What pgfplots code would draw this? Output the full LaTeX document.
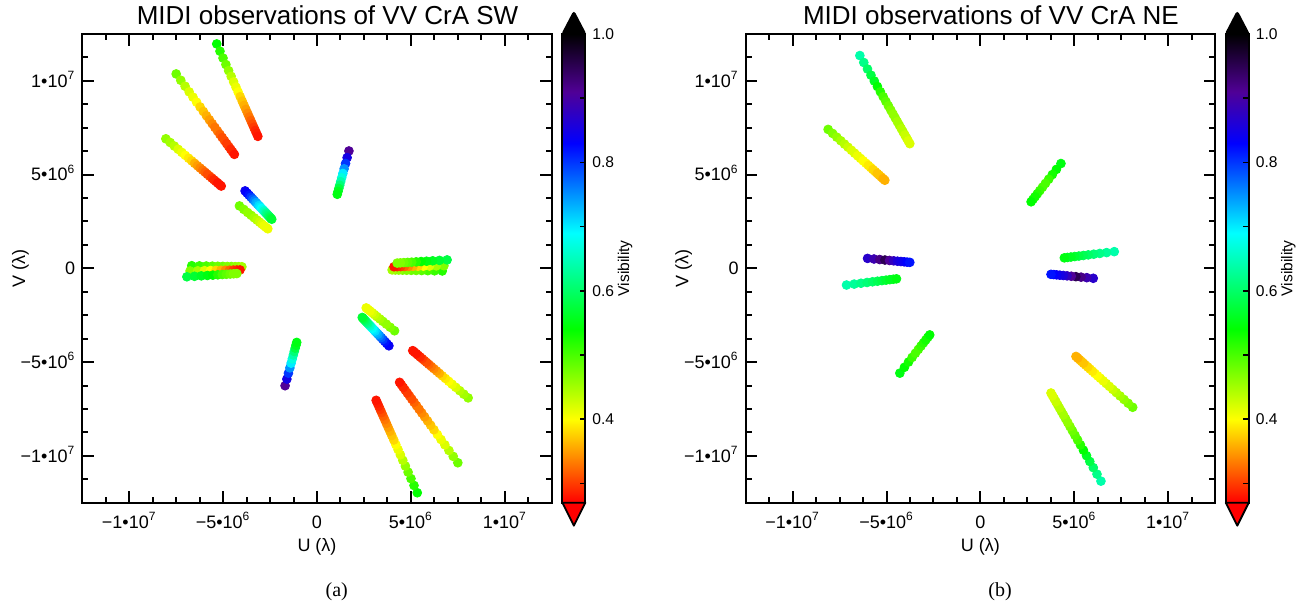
\documentclass[border=0pt]{standalone}
\usepackage{pgfplots}
\pgfplotsset{compat=1.18}
\usepackage{pgfplotstable}
\usepackage{fontspec}
\setmainfont{Liberation Sans}
\newfontfamily\capfont{Liberation Serif}

\pgfplotsset{colormap={vis}{rgb255(0pt)=(255,0,0); rgb255(17.8pt)=(255,255,0); rgb255(37pt)=(0,255,0); rgb255(57.5pt)=(0,255,255); rgb255(76.7pt)=(0,0,255); rgb255(87.7pt)=(80,0,150); rgb255(100pt)=(0,0,0)}}

% SW: one baseline of each conjugate pair (u, v in units of 1e6 lambda)
\pgfplotstableread{
u v vis
-5.340 11.970 0.54
-5.167 11.581 0.52
-5.005 11.216 0.50
-4.852 10.871 0.48
-4.707 10.545 0.46
-4.571 10.240 0.44
-4.440 9.944 0.42
-4.317 9.668 0.41
-4.201 9.406 0.40
-4.090 9.155 0.38
-3.984 8.918 0.37
-3.884 8.692 0.36
-3.787 8.475 0.35
-3.695 8.268 0.34
-3.608 8.070 0.33
-3.522 7.878 0.32
-3.441 7.696 0.31
-3.365 7.523 0.30
-3.290 7.356 0.29
-3.218 7.193 0.285
-3.150 7.040 0.28
-7.500 10.370 0.48
-7.255 10.031 0.46
-7.026 9.714 0.44
-6.809 9.413 0.42
-6.604 9.130 0.41
-6.412 8.864 0.40
-6.226 8.607 0.38
-6.052 8.367 0.37
-5.888 8.139 0.36
-5.730 7.920 0.35
-5.581 7.714 0.34
-5.439 7.517 0.33
-5.302 7.328 0.33
-5.172 7.148 0.32
-5.048 6.977 0.31
-4.927 6.809 0.31
-4.812 6.651 0.30
-4.704 6.500 0.30
-4.598 6.355 0.29
-4.496 6.213 0.29
-4.400 6.080 0.28
-8.050 6.910 0.46
-7.817 6.711 0.45
-7.599 6.524 0.44
-7.392 6.348 0.42
-7.197 6.182 0.41
-7.015 6.025 0.40
-6.838 5.874 0.39
-6.672 5.733 0.38
-6.516 5.600 0.36
-6.366 5.471 0.35
-6.224 5.350 0.34
-6.088 5.234 0.33
-5.958 5.123 0.32
-5.835 5.017 0.31
-5.717 4.917 0.31
-5.602 4.818 0.30
-5.492 4.725 0.29
-5.389 4.637 0.29
-5.289 4.551 0.28
-5.191 4.468 0.28
-5.100 4.390 0.28
-3.830 4.130 0.84
-3.718 4.011 0.83
-3.613 3.899 0.82
-3.513 3.793 0.80
-3.420 3.694 0.78
-3.332 3.600 0.76
-3.246 3.509 0.74
-3.167 3.425 0.73
-3.092 3.345 0.71
-3.019 3.268 0.70
-2.951 3.195 0.69
-2.886 3.126 0.68
-2.823 3.059 0.66
-2.764 2.996 0.65
-2.707 2.936 0.63
-2.651 2.877 0.62
-2.599 2.821 0.61
-2.549 2.768 0.60
-2.501 2.717 0.59
-2.454 2.667 0.58
-2.410 2.620 0.57
-4.130 3.330 0.48
-3.899 3.143 0.47
-3.694 2.977 0.46
-3.509 2.829 0.46
-3.345 2.696 0.45
-3.195 2.575 0.44
-3.059 2.465 0.43
-2.936 2.365 0.42
-2.821 2.272 0.41
-2.717 2.188 0.41
-2.620 2.110 0.41
1.700 6.260 0.91
1.605 5.907 0.85
1.521 5.592 0.80
1.445 5.311 0.75
1.378 5.059 0.70
1.316 4.830 0.67
1.260 4.622 0.64
1.210 4.433 0.61
1.162 4.257 0.58
1.120 4.098 0.56
1.080 3.950 0.55
-6.670 0.140 0.52
-6.261 0.131 0.51
-5.898 0.124 0.50
-5.573 0.117 0.49
-5.282 0.111 0.48
-5.017 0.105 0.48
-4.777 0.100 0.47
-4.558 0.096 0.47
-4.355 0.091 0.46
-4.171 0.088 0.46
-4.000 0.084 0.45
-6.760 -0.140 0.47
-6.353 -0.132 0.45
-5.991 -0.124 0.42
-5.667 -0.117 0.40
-5.377 -0.111 0.38
-5.113 -0.106 0.36
-4.874 -0.101 0.34
-4.656 -0.096 0.32
-4.454 -0.092 0.30
-4.270 -0.089 0.29
-4.100 -0.085 0.28
-6.930 -0.450 0.58
-6.523 -0.424 0.57
-6.161 -0.401 0.56
-5.837 -0.380 0.55
-5.547 -0.362 0.54
-5.283 -0.345 0.52
-5.044 -0.329 0.50
-4.826 -0.316 0.49
-4.624 -0.303 0.48
-4.440 -0.291 0.47
-4.270 -0.280 0.47
}\tabSW

% NE
\pgfplotstableread{
u v vis
-6.420 11.350 0.64
-6.210 10.979 0.62
-6.013 10.631 0.60
-5.827 10.302 0.58
-5.651 9.992 0.56
-5.486 9.700 0.54
-5.327 9.418 0.52
-5.178 9.155 0.50
-5.037 8.906 0.49
-4.901 8.666 0.48
-4.773 8.441 0.47
-4.651 8.225 0.46
-4.534 8.018 0.46
-4.422 7.820 0.45
-4.316 7.632 0.45
-4.212 7.449 0.44
-4.114 7.275 0.44
-4.021 7.111 0.43
-3.930 6.951 0.43
-3.842 6.796 0.42
-3.760 6.650 0.42
-8.110 7.410 0.48
-7.871 7.196 0.47
-7.648 6.995 0.46
-7.437 6.806 0.45
-7.237 6.627 0.44
-7.050 6.459 0.43
-6.869 6.296 0.42
-6.700 6.144 0.42
-6.540 6.001 0.41
-6.386 5.863 0.41
-6.241 5.733 0.40
-6.102 5.608 0.40
-5.969 5.489 0.39
-5.842 5.375 0.39
-5.721 5.266 0.38
-5.603 5.161 0.38
-5.492 5.060 0.37
-5.386 4.966 0.37
-5.283 4.873 0.37
-5.184 4.784 0.36
-5.090 4.700 0.36
-6.010 0.530 0.87
-5.666 0.498 0.89
-5.360 0.469 0.92
-5.085 0.444 0.95
-4.840 0.421 0.91
-4.617 0.400 0.88
-4.415 0.381 0.86
-4.230 0.364 0.85
-4.059 0.348 0.84
-3.904 0.333 0.83
-3.760 0.320 0.82
-7.130 -0.890 0.64
-6.723 -0.840 0.63
-6.361 -0.795 0.62
-6.037 -0.754 0.61
-5.747 -0.718 0.60
-5.483 -0.686 0.59
-5.244 -0.656 0.58
-5.026 -0.629 0.57
-4.824 -0.604 0.56
-4.640 -0.581 0.56
-4.470 -0.560 0.55
-4.290 -5.590 0.55
-4.047 -5.278 0.54
-3.830 -5.000 0.53
-3.637 -4.752 0.51
-3.463 -4.529 0.50
-3.306 -4.327 0.50
-3.163 -4.144 0.51
-3.032 -3.976 0.52
-2.911 -3.821 0.53
-2.802 -3.681 0.53
-2.700 -3.550 0.54
}\tabNE

\pgfplotsset{
  uvpanel/.style={
    scale only axis, width=234.7pt, height=234.35pt, anchor=south west,
    xmin=-12.5, xmax=12.5, ymin=-12.5, ymax=12.5,
    xtick={-10,-5,0,5,10}, ytick={-10,-5,0,5,10},
    minor xtick={-11.25,-8.75,-7.5,-6.25,-3.75,-2.5,-1.25,1.25,2.5,3.75,6.25,7.5,8.75,11.25},
    minor ytick={-11.25,-8.75,-7.5,-6.25,-3.75,-2.5,-1.25,1.25,2.5,3.75,6.25,7.5,8.75,11.25},
    xticklabels={−1•10\textsuperscript{7},−5•10\textsuperscript{6},0,5•10\textsuperscript{6},1•10\textsuperscript{7}},
    yticklabels={−1•10\textsuperscript{7},−5•10\textsuperscript{6},0,5•10\textsuperscript{6},1•10\textsuperscript{7}},
    tick align=inside, major tick length=5.8pt, minor tick length=3pt,
    tick style={black, line width=1pt},
    axis line style={line width=1pt},
    tick label style={font=\fontsize{9}{11}\selectfont},
    xticklabel style={anchor=base, yshift=-12.8pt},
    yticklabel style={anchor=base east, yshift=-3.1pt},
    xlabel={U (λ)}, ylabel={V (λ)},
    label style={font=\fontsize{9}{11}\selectfont},
    xlabel style={at={(axis description cs:0.5,-0.1045)}, anchor=base},
    ylabel style={at={(axis description cs:-0.1219,0.5)}, anchor=base},
    every axis title shift=0pt,
    title style={at={(axis description cs:0.5224,1.0192)}, anchor=base, font=\fontsize{13}{15}\selectfont},
    point meta min=0.27, point meta max=1.0,
    colormap name=vis,
    colorbar,
    colorbar style={
      at={(parent axis.north east)}, anchor=north west, xshift=-3.2pt,
      scale only axis, width=11.5pt, height=234.35pt,
      ytick={0.4,0.6,0.8,1.0}, yticklabels={0.4,0.6,0.8,1.0},
      minor ytick={0.3,0.5,0.7,0.9},
      ytick pos=right, yticklabel pos=right,
      tick align=inside, major tick length=2.8pt, minor tick length=2.8pt,
      tick style={black, line width=0.75pt},
      axis line style={line width=0.9pt},
      yticklabel style={font=\fontsize{7.8}{9}\selectfont, anchor=west},
    },
  },
  uvscatter/.style={scatter, only marks, mark=*, mark size=2.2pt, point meta=explicit,
    scatter/use mapped color={draw=mapped color, fill=mapped color}},
}

\begin{document}
\begin{tikzpicture}
\useasboundingbox (0,0) rectangle (656.5pt,302pt);

\begin{axis}[uvpanel, at={(41.15pt,50.65pt)}, title={MIDI observations of VV CrA SW},
  colorbar style={name=cbL}]
\addplot[uvscatter] table[x=u, y=v, meta=vis] {\tabSW};
\addplot[uvscatter] table[x expr=-\thisrow{u}, y expr=-\thisrow{v}, meta=vis] {\tabSW};
\end{axis}

\begin{axis}[uvpanel, at={(372.85pt,50.65pt)}, title={MIDI observations of VV CrA NE},
  colorbar style={name=cbR}]
\addplot[uvscatter] table[x=u, y=v, meta=vis] {\tabNE};
\addplot[uvscatter] table[x expr=-\thisrow{u}, y expr=-\thisrow{v}, meta=vis] {\tabNE};
\end{axis}

% colour bar end triangles and labels
\foreach \cb in {cbL,cbR}{
  \filldraw[fill=red, draw=black, line width=0.9pt, line join=round] (\cb.south west) -- (\cb.south east) -- ([yshift=-11.5pt]\cb.south) -- cycle;
  \filldraw[fill=black, draw=black, line width=0.9pt, rounded corners=1pt] (\cb.north west) -- (\cb.north east) -- ([yshift=11pt]\cb.north) -- cycle;
}
\node[rotate=90, anchor=north, inner sep=0pt, font=\fontsize{7.8}{9}\selectfont] at ([xshift=16pt,yshift=0pt]cbL.east) {Visibility};
\node[rotate=90, anchor=north, inner sep=0pt, font=\fontsize{7.8}{9}\selectfont] at ([xshift=16pt,yshift=0pt]cbR.east) {Visibility};

\node[anchor=base, font=\capfont\fontsize{10}{12}\selectfont] at (168.35pt,3.65pt) {(a)};
\node[anchor=base, font=\capfont\fontsize{10}{12}\selectfont] at (500pt,3.65pt) {(b)};
\end{tikzpicture}
\end{document}
